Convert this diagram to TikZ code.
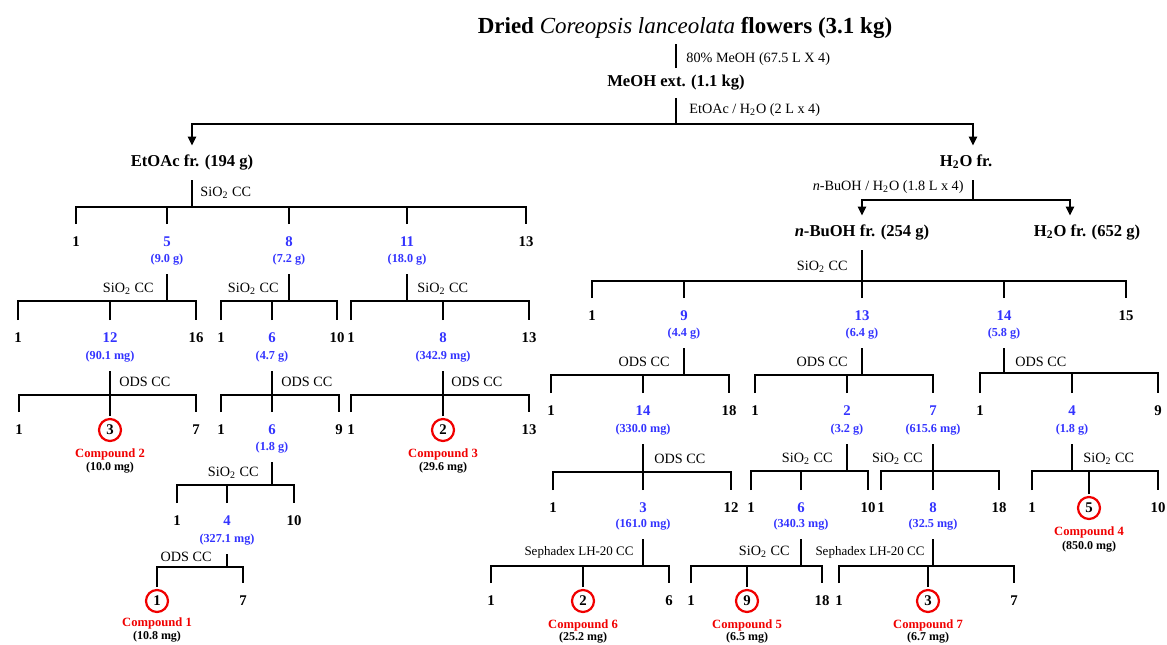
\documentclass[tikz,border=0pt]{standalone}
\usepackage{fontspec}
\setmainfont{Liberation Serif}
\usetikzlibrary{arrows.meta}
\definecolor{frblue}{RGB}{51,51,255}
\definecolor{cpdred}{RGB}{240,0,0}

\begin{document}
\begin{tikzpicture}[x=0.5pt,y=-0.5pt,line width=1.45pt,
	title/.style={font=\bfseries\fontsize{11.5}{13}\selectfont, inner sep=2pt},
	frac/.style={font=\bfseries\fontsize{8.3}{10}\selectfont, text height=5.6pt, text depth=1.8pt, inner xsep=1pt, inner ysep=4.3pt},
	meth/.style={font=\fontsize{7.1}{8.5}\selectfont, inner sep=1pt},
	seph/.style={font=\fontsize{6.5}{8}\selectfont, inner sep=1pt},
	num/.style={font=\bfseries\fontsize{7.4}{8.5}\selectfont, text height=4.9pt, text depth=0pt, inner xsep=1pt, inner ysep=5.8pt},
	bnum/.style={num, text=frblue},
	amt/.style={font=\bfseries\fontsize{6.1}{7}\selectfont, text=frblue, text height=4.3pt, text depth=1.3pt, inner xsep=1pt, inner ysep=4pt},
	cpd/.style={circle, draw=cpdred, line width=1.1pt, minimum size=11pt, inner sep=0pt, outer sep=1.5pt, font=\bfseries\fontsize{7.4}{8.5}\selectfont},
	cname/.style={font=\bfseries\fontsize{6.3}{7.5}\selectfont, text=cpdred, inner sep=1pt},
	yld/.style={font=\bfseries\fontsize{6}{7}\selectfont, inner sep=1pt},
	arr/.style={-{Triangle[length=4.5pt,width=4pt]}}]
	\useasboundingbox (0,0) rectangle (1167,644);

	% extraction and partition
	\node[title] (t) at (685,28) {Dried \textmd{\textit{Coreopsis lanceolata}} flowers (3.1 kg)};
	\node[frac, inner ysep=3pt] (meoh) at (676,83) {MeOH ext. (1.1 kg)};
	\node[meth, anchor=west] (m0) at (683,59) {80\% MeOH (67.5 L X 4)};
	\node[meth, anchor=west] (m1) at (686,110) {EtOAc / H\textsubscript{2}O (2 L x 4)};
	\coordinate (j0) at (676,124);
	\node[frac] (etoac) at (192,163) {EtOAc fr. (194 g)};
	\node[frac] (h2o) at (966,163) {H\textsubscript{2}O fr.};
	\draw (meoh.north) -- (meoh.north |- t.south);
	\draw (meoh.south) -- (j0);
	\draw[arr] (j0) -| (etoac.north);
	\draw[arr] (j0) -| ([xshift=3.5pt]h2o.north);

	\node[meth, anchor=east] (m2) at (967,187) {\textit{n}-BuOH / H\textsubscript{2}O (1.8 L x 4)};
	\coordinate (jw) at (973,200);
	\node[frac] (bu) at (862,233) {\textit{n}-BuOH fr. (254 g)};
	\node[frac] (w2) at (1087,233) {H\textsubscript{2}O fr. (652 g)};
	\draw ([xshift=3.5pt]h2o.south) -- (jw);
	\draw[arr] (jw) -| (bu.north);
	\draw[arr] (jw) -| ([xshift=-8.5pt]w2.north);

	% EtOAc fraction
	\node[meth, anchor=west] (m3) at (197,193) {SiO\textsubscript{2} CC};
	\coordinate (je) at (192,207);
	\node[num] (e1) at (76,242) {1};
	\node[bnum] (e5) at (167,242) {5};
	\node[bnum] (e8) at (289,242) {8};
	\node[bnum] (e11) at (407,242) {11};
	\node[num] (e13) at (526,242) {13};
	\node[amt] (e5a) at (167,259) {(9.0 g)};
	\node[amt] (e8a) at (289,259) {(7.2 g)};
	\node[amt] (e11a) at (407,259) {(18.0 g)};
	\draw (etoac.south) -- (je);
	\draw (e1.north) |- (je) -| (e13.north);
	\foreach \c in {e5,e8,e11}
		\draw (\c.north) -- (\c.north |- je);

	\node[meth, anchor=east] (m4) at (157,289) {SiO\textsubscript{2} CC};
	\coordinate (j5) at (167,301);
	\node[num] (e5c1) at (18,338) {1};
	\node[bnum] (e5c12) at (110,338) {12};
	\node[num] (e5c16) at (196,338) {16};
	\node[amt] (e5c12a) at (110,356) {(90.1 mg)};
	\draw (e5a.south) -- (j5);
	\draw (e5c1.north) |- (j5) -| (e5c16.north);
	\draw (e5c12.north) -- (e5c12.north |- j5);

	\node[meth, anchor=east] (m5) at (282,289) {SiO\textsubscript{2} CC};
	\coordinate (j8) at (289,301);
	\node[num] (e8c1) at (221,338) {1};
	\node[bnum] (e8c6) at (272,338) {6};
	\node[num] (e8c10) at (337,338) {10};
	\node[amt] (e8c6a) at (272,356) {(4.7 g)};
	\draw (e8a.south) -- (j8);
	\draw (e8c1.north) |- (j8) -| (e8c10.north);
	\draw (e8c6.north) -- (e8c6.north |- j8);

	\node[meth, anchor=west] (m6) at (414,289) {SiO\textsubscript{2} CC};
	\coordinate (j11) at (407,301);
	\node[num] (e11c1) at (351,338) {1};
	\node[bnum] (e11c8) at (443,338) {8};
	\node[num] (e11c13) at (529,338) {13};
	\node[amt] (e11c8a) at (443,356) {(342.9 mg)};
	\draw (e11a.south) -- (j11);
	\draw (e11c1.north) |- (j11) -| (e11c13.north);
	\draw (e11c8.north) -- (e11c8.north |- j11);

	\node[meth, anchor=west] (m7) at (116,382) {ODS CC};
	\coordinate (j12) at (110,395);
	\node[num] (e12c1) at (19,430) {1};
	\node[cpd] (e12c3) at (110,430) {3};
	\node[num] (e12c7) at (196,430) {7};
	\node[cname] (cp2) at (110,454) {Compound 2};
	\node[yld] (cp2y) at (110,468) {(10.0 mg)};
	\draw (e5c12a.south) -- (j12);
	\draw (e12c1.north) |- (j12) -| (e12c7.north);
	\draw (e12c3.north) -- (e12c3.north |- j12);

	\node[meth, anchor=west] (m8) at (278,382) {ODS CC};
	\coordinate (j6) at (272,395);
	\node[num] (e6c1) at (221,430) {1};
	\node[bnum] (e6c6) at (272,430) {6};
	\node[num] (e6c9) at (339,430) {9};
	\node[amt] (e6c6a) at (272,447) {(1.8 g)};
	\draw (e8c6a.south) -- (j6);
	\draw (e6c1.north) |- (j6) -| (e6c9.north);
	\draw (e6c6.north) -- (e6c6.north |- j6);

	\node[meth, anchor=west] (m9) at (448,382) {ODS CC};
	\coordinate (j8b) at (443,395);
	\node[num] (e8c1b) at (351,430) {1};
	\node[cpd] (e8c2b) at (443,430) {2};
	\node[num] (e8c13b) at (529,430) {13};
	\node[cname] (cp3) at (443,454) {Compound 3};
	\node[yld] (cp3y) at (443,468) {(29.6 mg)};
	\draw (e11c8a.south) -- (j8b);
	\draw (e8c1b.north) |- (j8b) -| (e8c13b.north);
	\draw (e8c2b.north) -- (e8c2b.north |- j8b);

	\node[meth, anchor=east] (m10) at (262,473) {SiO\textsubscript{2} CC};
	\coordinate (j6b) at (272,485);
	\node[num] (e6c1b) at (177,521) {1};
	\node[bnum] (e6c4b) at (227,521) {4};
	\node[num] (e6c10b) at (294,521) {10};
	\node[amt] (e6c4a) at (227,539) {(327.1 mg)};
	\draw (e6c6a.south) -- (j6b);
	\draw (e6c1b.north) |- (j6b) -| (e6c10b.north);
	\draw (e6c4b.north) -- (e6c4b.north |- j6b);

	\node[meth, anchor=east] (m11) at (215,557) {ODS CC};
	\coordinate (j4) at (227,567);
	\node[cpd] (e4c1) at (157,601) {1};
	\node[num] (e4c7) at (243,601) {7};
	\node[cname] (cp1) at (157,623) {Compound 1};
	\node[yld] (cp1y) at (157,637) {(10.8 mg)};
	\draw (e6c4a.south) -- (j4);
	\draw (e4c1.north) |- (j4) -| (e4c7.north);

	% n-BuOH fraction
	\node[meth, anchor=east] (m12) at (851,267) {SiO\textsubscript{2} CC};
	\coordinate (jb) at (862,281);
	\node[num] (b1) at (592,316) {1};
	\node[bnum] (b9) at (684,316) {9};
	\node[bnum] (b13) at (862,316) {13};
	\node[bnum] (b14) at (1004,316) {14};
	\node[num] (b15) at (1126,316) {15};
	\node[amt] (b9a) at (684,333) {(4.4 g)};
	\node[amt] (b13a) at (862,333) {(6.4 g)};
	\node[amt] (b14a) at (1004,333) {(5.8 g)};
	\draw (bu.south) -- (jb);
	\draw (b1.north) |- (jb) -| (b15.north);
	\foreach \c in {b9,b13,b14}
		\draw (\c.north) -- (\c.north |- jb);

	\node[meth, anchor=east] (m13) at (673,362) {ODS CC};
	\coordinate (j9) at (684,375);
	\node[num] (b9c1) at (551,411) {1};
	\node[bnum] (b9c14) at (643,411) {14};
	\node[num] (b9c18) at (729,411) {18};
	\node[amt] (b9c14a) at (643,429) {(330.0 mg)};
	\draw (b9a.south) -- (j9);
	\draw (b9c1.north) |- (j9) -| (b9c18.north);
	\draw (b9c14.north) -- (b9c14.north |- j9);

	\node[meth, anchor=east] (m14) at (851,362) {ODS CC};
	\coordinate (j13) at (862,375);
	\node[num] (b13c1) at (755,411) {1};
	\node[bnum] (b13c2) at (847,411) {2};
	\node[bnum] (b13c7) at (933,411) {7};
	\node[amt] (b13c2a) at (847,429) {(3.2 g)};
	\node[amt] (b13c7a) at (933,429) {(615.6 mg)};
	\draw (b13a.south) -- (j13);
	\draw (b13c1.north) |- (j13) -| (b13c7.north);
	\draw (b13c2.north) -- (b13c2.north |- j13);

	\node[meth, anchor=west] (m15) at (1012,362) {ODS CC};
	\coordinate (j14) at (1004,373);
	\node[num] (b14c1) at (980,411) {1};
	\node[bnum] (b14c4) at (1072,411) {4};
	\node[num] (b14c9) at (1158,411) {9};
	\node[amt] (b14c4a) at (1072,429) {(1.8 g)};
	\draw (b14a.south) -- (j14);
	\draw (b14c1.north) |- (j14) -| (b14c9.north);
	\draw (b14c4.north) -- (b14c4.north |- j14);

	\node[meth, anchor=west] (m16) at (651,459) {ODS CC};
	\coordinate (j14b) at (643,472);
	\node[num] (b14c1b) at (553,508) {1};
	\node[bnum] (b14c3b) at (643,508) {3};
	\node[num] (b14c12b) at (731,508) {12};
	\node[amt] (b14c3a) at (643,524) {(161.0 mg)};
	\draw (b9c14a.south) -- (j14b);
	\draw (b14c1b.north) |- (j14b) -| (b14c12b.north);
	\draw (b14c3b.north) -- (b14c3b.north |- j14b);

	\node[meth, anchor=east] (m17) at (836,459) {SiO\textsubscript{2} CC};
	\coordinate (j2) at (847,471);
	\node[num] (b2c1) at (751,508) {1};
	\node[bnum] (b2c6) at (801,508) {6};
	\node[num] (b2c10) at (868,508) {10};
	\node[amt] (b2c6a) at (801,524) {(340.3 mg)};
	\draw (b13c2a.south) -- (j2);
	\draw (b2c1.north) |- (j2) -| (b2c10.north);
	\draw (b2c6.north) -- (b2c6.north |- j2);

	\node[meth, anchor=east] (m18) at (926,459) {SiO\textsubscript{2} CC};
	\coordinate (j7) at (933,471);
	\node[num] (b7c1) at (881,508) {1};
	\node[bnum] (b7c8) at (933,508) {8};
	\node[num] (b7c18) at (999,508) {18};
	\node[amt] (b7c8a) at (933,524) {(32.5 mg)};
	\draw (b13c7a.south) -- (j7);
	\draw (b7c1.north) |- (j7) -| (b7c18.north);
	\draw (b7c8.north) -- (b7c8.north |- j7);

	\node[meth, anchor=west] (m19) at (1080,459) {SiO\textsubscript{2} CC};
	\coordinate (j4b) at (1072,471);
	\node[num] (b4c1) at (1032,508) {1};
	\node[cpd] (b4c5) at (1089,508) {5};
	\node[num] (b4c10) at (1158,508) {10};
	\node[cname] (cp4) at (1089,532) {Compound 4};
	\node[yld] (cp4y) at (1089,547) {(850.0 mg)};
	\draw (b14c4a.south) -- (j4b);
	\draw (b4c1.north) |- (j4b) -| (b4c10.north);
	\draw (b4c5.north) -- (b4c5.north |- j4b);

	\node[seph, anchor=east] (m20) at (637,552) {Sephadex LH-20 CC};
	\coordinate (j3) at (643,566);
	\node[num] (b3c1) at (491,601) {1};
	\node[cpd] (b3c2) at (583,601) {2};
	\node[num] (b3c6) at (669,601) {6};
	\node[cname] (cp6) at (583,625) {Compound 6};
	\node[yld] (cp6y) at (583,638) {(25.2 mg)};
	\draw (b14c3a.south) -- (j3);
	\draw (b3c1.north) |- (j3) -| (b3c6.north);
	\draw (b3c2.north) -- (b3c2.north |- j3);

	\node[meth, anchor=east] (m21) at (793,552) {SiO\textsubscript{2} CC};
	\coordinate (j6c) at (801,566);
	\node[num] (b6c1) at (691,601) {1};
	\node[cpd] (b6c9) at (747,601) {9};
	\node[num] (b6c18) at (822,601) {18};
	\node[cname] (cp5) at (747,625) {Compound 5};
	\node[yld] (cp5y) at (747,638) {(6.5 mg)};
	\draw (b2c6a.south) -- (j6c);
	\draw (b6c1.north) |- (j6c) -| (b6c18.north);
	\draw (b6c9.north) -- (b6c9.north |- j6c);

	\node[seph, anchor=east] (m22) at (928,552) {Sephadex LH-20 CC};
	\coordinate (j8c) at (933,566);
	\node[num] (b8c1) at (839,601) {1};
	\node[cpd] (b8c3) at (928,601) {3};
	\node[num] (b8c7) at (1014,601) {7};
	\node[cname] (cp7) at (928,625) {Compound 7};
	\node[yld] (cp7y) at (928,638) {(6.7 mg)};
	\draw (b7c8a.south) -- (j8c);
	\draw (b8c1.north) |- (j8c) -| (b8c7.north);
	\draw (b8c3.north) -- (b8c3.north |- j8c);
\end{tikzpicture}
\end{document}
